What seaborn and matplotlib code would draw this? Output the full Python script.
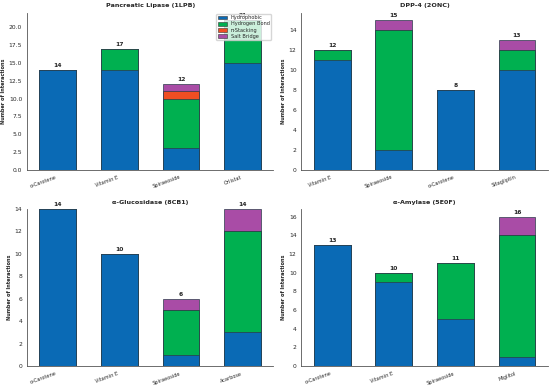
import pandas as pd
import matplotlib
matplotlib.use('Agg')
import matplotlib.pyplot as plt
import matplotlib.patches as mpatches
import seaborn as sns

sns.set_style('white')
plt.rcParams['font.family'] = ['DejaVu Sans']

# 相互作用类型
types = ['Hydrophobic', 'Hydrogen Bond', 'π-Stacking', 'Salt Bridge']
colors = ['#0a6ab5', '#00b050', '#f04e23', '#a94ca6']

# 每个靶点的化合物和相互作用数
titles = ['Pancreatic Lipase (1LPB)', 'DPP-4 (2ONC)', 'α-Glucosidase (8CB1)', 'α-Amylase (5E0F)']
compounds = [
    ['α-Carotene', 'Vitamin E', 'Spiraeoside', 'Orlistat'],
    ['Vitamin E', 'Spiraeoside', 'α-Carotene', 'Sitagliptin'],
    ['α-Carotene', 'Vitamin E', 'Spiraeoside', 'Acarbose'],
    ['α-Carotene', 'Vitamin E', 'Spiraeoside', 'Miglitol'],
]
hydrophobic = [[14, 14, 3, 15], [11, 2, 8, 10], [14, 10, 1, 3], [13, 9, 5, 1]]
hbond = [[0, 3, 7, 6], [1, 12, 0, 2], [0, 0, 4, 9], [0, 1, 6, 13]]
pistack = [[0, 0, 1, 0], [0, 0, 0, 0], [0, 0, 0, 0], [0, 0, 0, 0]]
saltbridge = [[0, 0, 1, 0], [0, 1, 0, 1], [0, 0, 1, 2], [0, 0, 0, 2]]
ytop = [22.05, 15.75, 14, 16.8]

fig, axes = plt.subplots(2, 2, figsize=(5.5, 3.87), dpi=100)
fig.subplots_adjust(left=0.049, right=0.996, top=0.967, bottom=0.054, wspace=0.113, hspace=0.25)

for k, ax in enumerate(axes.flat):
    df = pd.DataFrame({'Compound': compounds[k],
                       'Hydrophobic': hydrophobic[k],
                       'Hydrogen Bond': hbond[k],
                       'π-Stacking': pistack[k],
                       'Salt Bridge': saltbridge[k]})
    cum = df[types].cumsum(axis=1)
    # 从上往下画累计值，实现堆叠
    for i in range(len(types) - 1, -1, -1):
        sns.barplot(data=cum.assign(Compound=df.Compound), x='Compound', y=types[i],
                    color=colors[i], edgecolor='#2b3a4a', linewidth=0.5,
                    width=0.6, saturation=1, ax=ax)
    totals = cum[types[-1]]
    for j, t in enumerate(totals):
        ax.text(j, t + ytop[k] * 0.012, str(t), ha='center', va='bottom',
                fontsize=4.3, fontweight='bold')
    ax.set_ylim(0, ytop[k])
    ax.set_xlim(-0.5, 3.5)
    ax.set_title(titles[k], fontsize=4.6, fontweight='bold', pad=4)
    ax.set_ylabel('Number of Interactions', fontsize=3.6, fontweight='bold', labelpad=2)
    ax.set_xlabel('')
    ax.tick_params(axis='both', labelsize=4.3, length=2, width=0.5, pad=1.5)
    plt.setp(ax.get_xticklabels(), rotation=20, ha='right', fontsize=3.6)
    sns.despine(ax=ax)
    for s in ['left', 'bottom']:
        ax.spines[s].set_linewidth(0.6)
        ax.spines[s].set_color('#555555')

handles = [mpatches.Patch(facecolor=c, edgecolor='#333333', linewidth=0.4, label=t)
           for c, t in zip(colors, types)]
axes[0, 0].legend(handles=handles, loc='upper right', fontsize=3.6, frameon=True,
                  handlelength=1.8, handleheight=0.8, borderpad=0.3, labelspacing=0.25,
                  bbox_to_anchor=(1.0, 1.01))

plt.savefig('out.png', dpi=100)
